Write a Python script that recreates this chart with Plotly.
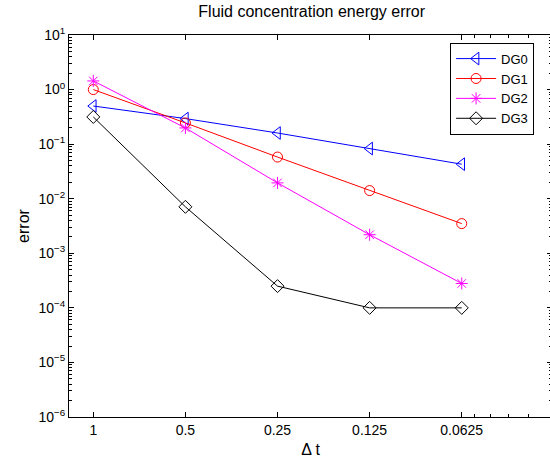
import numpy as np
import plotly.graph_objects as go

dt = [1, 0.5, 0.25, 0.125, 0.0625]
dt_labels = ["1", "0.5", "0.25", "0.125", "0.0625"]
dg0 = [0.50, 0.294, 0.160, 0.083, 0.0429]
dg1 = [1.0, 0.245, 0.058, 0.0141, 0.0035]
dg2 = [1.44, 0.198, 0.0195, 0.00219, 0.00028]
dg3 = [0.315, 0.0071, 0.00025, 0.0001, 0.0001]
y_exps = [-6, -5, -4, -3, -2, -1, 0, 1]

series = [
    ("DG0", dg0, "#0000ff", "triangle-left-open", 11),
    ("DG1", dg1, "#ff0000", "circle-open", 10),
    ("DG2", dg2, "#ff00ff", "asterisk-open", 10),
    ("DG3", dg3, "#000000", "diamond-open", 10),
]

fig = go.Figure()
for name, vals, col, sym, sz in series:
    fig.add_trace(go.Scatter(
        x=dt, y=vals, name=name, mode="lines+markers",
        line=dict(color=col, width=1),
        marker=dict(symbol=sym, size=sz, color=col, line=dict(color=col, width=1)),
    ))

font_family = "Liberation Sans, Arial, Helvetica, sans-serif"
y_minor = [m * 10.0 ** e for e in range(-6, 1) for m in range(2, 10)]

fig.update_layout(
    width=552, height=458,
    margin=dict(l=69, r=0, t=35, b=41),
    paper_bgcolor="white", plot_bgcolor="white",
    font=dict(family=font_family, size=14, color="black"),
    title=dict(text="Fluid concentration energy error", x=0.5647, xanchor="center",
               y=0.988, yanchor="top", font=dict(size=16)),
    showlegend=True,
    legend=dict(x=0.789, xanchor="left", y=0.98, yanchor="top",
                bgcolor="white", bordercolor="black", borderwidth=1,
                font=dict(size=13), tracegroupgap=0, itemwidth=40),
    xaxis=dict(
        type="log", range=[0.0794, -1.4991],
        tickvals=dt, ticktext=dt_labels,
        ticks="inside", ticklen=5, tickcolor="black", tickwidth=1,
        showline=True, linecolor="black", linewidth=1, mirror="ticks",
        showgrid=False, zeroline=False,
        minor=dict(tickvals=[0.0566, 0.0503, 0.044, 0.0377], ticks="inside",
                   ticklen=3, tickcolor="black", showgrid=False),
        title=dict(text="Δ t", font=dict(size=16), standoff=9),
        tickfont=dict(size=14),
    ),
    yaxis=dict(
        type="log", range=[-6, 1],
        tickvals=[10.0 ** e for e in y_exps],
        ticktext=["10<sup>%s</sup>" % (str(e).replace("-", "−")) for e in y_exps],
        ticks="inside", ticklen=5, tickcolor="black", tickwidth=1,
        showline=True, linecolor="black", linewidth=1, mirror="ticks",
        showgrid=False, zeroline=False,
        minor=dict(tickvals=y_minor, ticks="inside", ticklen=3,
                   tickcolor="black", showgrid=False),
        title=dict(text="error", font=dict(size=16), standoff=4),
        tickfont=dict(size=14),
    ),
)

fig.write_html("out.html", config={"displayModeBar": False},
               post_script="document.body.style.margin='0';document.body.style.overflow='hidden';")
